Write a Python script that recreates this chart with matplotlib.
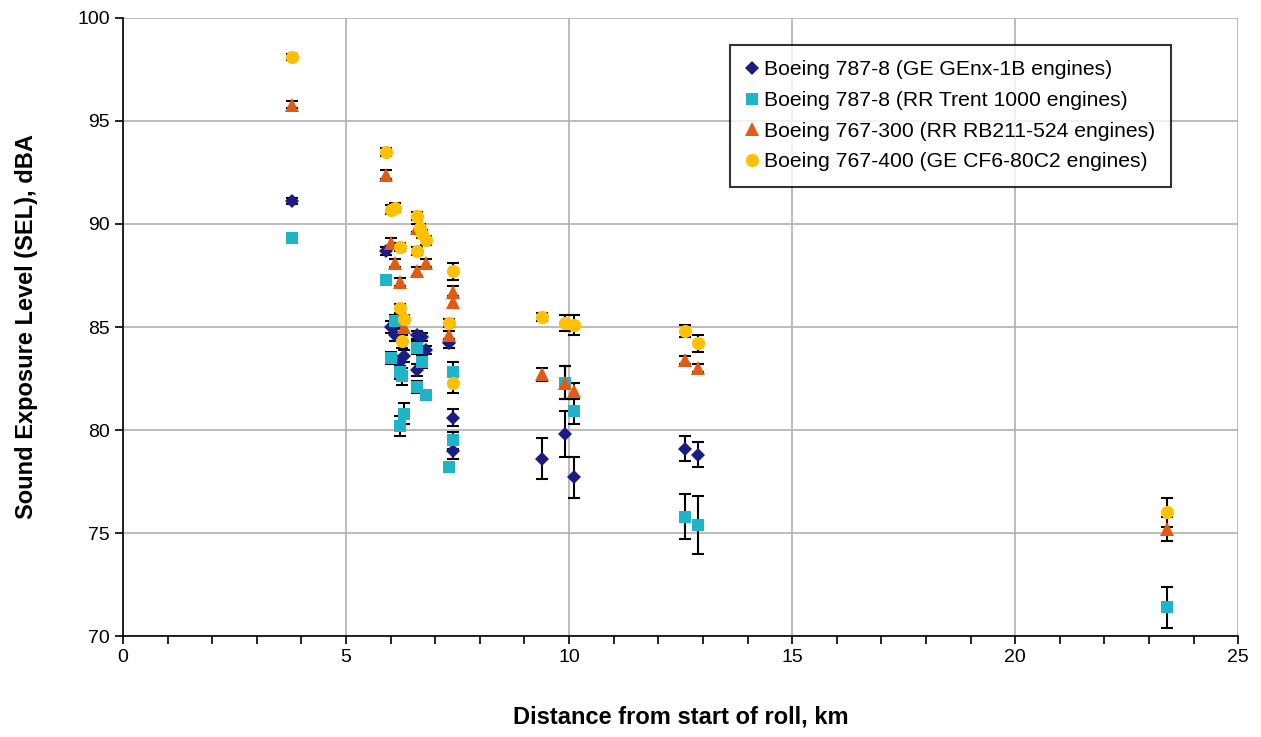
import numpy as np
import matplotlib.pyplot as plt

plt.rcParams['font.family'] = ['Liberation Sans', 'DejaVu Sans']

# Boeing 787-8 (GE GEnx-1B)
ge787_x = [3.8, 5.9, 6.0, 6.1, 6.2, 6.3, 6.6, 6.6, 6.7, 6.8, 7.3, 7.4, 7.4, 9.4, 9.9, 10.1, 12.6, 12.9]
ge787_y = [91.1, 88.7, 85.0, 84.6, 83.3, 83.6, 84.6, 82.9, 84.5, 83.9, 84.2, 80.6, 79.0, 78.6, 79.8, 77.7, 79.1, 78.8]
ge787_err = [0.15, 0.2, 0.3, 0.3, 0.3, 0.3, 0.2, 0.3, 0.2, 0.2, 0.2, 0.4, 0.4, 1.0, 1.1, 1.0, 0.6, 0.6]

# Boeing 787-8 (RR Trent 1000)
rr787_x = [3.8, 5.9, 6.0, 6.1, 6.2, 6.25, 6.3, 6.2, 6.6, 6.6, 6.7, 6.8, 7.3, 7.4, 7.4, 9.9, 10.1, 12.6, 12.9, 23.4]
rr787_y = [89.3, 87.3, 83.5, 85.3, 82.8, 82.6, 80.8, 80.2, 84.0, 82.1, 83.3, 81.7, 78.2, 82.8, 79.5, 82.3, 80.9, 75.8, 75.4, 71.4]
rr787_err = [0.15, 0.2, 0.3, 0.3, 0.3, 0.4, 0.5, 0.5, 0.3, 0.3, 0.3, 0.2, 0.2, 0.5, 0.4, 0.8, 0.6, 1.1, 1.4, 1.0]

# Boeing 767-300 (RR RB211-524)
b763_x = [3.8, 5.9, 6.0, 6.1, 6.2, 6.3, 6.6, 6.6, 6.8, 7.3, 7.4, 7.4, 9.4, 9.9, 10.1, 12.6, 12.9, 23.4]
b763_y = [95.8, 92.4, 89.1, 88.1, 87.2, 85.0, 89.8, 87.7, 88.1, 84.6, 86.7, 86.2, 82.7, 82.3, 81.9, 83.4, 83.0, 75.2]
b763_err = [0.15, 0.2, 0.2, 0.2, 0.2, 0.3, 0.2, 0.2, 0.2, 0.2, 0.3, 0.3, 0.3, 0.8, 0.4, 0.2, 0.2, 0.6]

# Boeing 767-400 (GE CF6-80C2)
b764_x = [3.8, 5.9, 6.0, 6.1, 6.2, 6.2, 6.3, 6.25, 6.6, 6.65, 6.7, 6.8, 6.6, 7.3, 7.4, 7.4, 9.4, 9.9, 10.1, 12.6, 12.9, 23.4]
b764_y = [98.1, 93.5, 90.7, 90.8, 88.9, 85.9, 85.4, 84.3, 90.4, 89.8, 89.5, 89.2, 88.7, 85.2, 87.7, 82.3, 85.5, 85.2, 85.1, 84.8, 84.2, 76.0]
b764_err = [0.15, 0.2, 0.2, 0.2, 0.2, 0.2, 0.2, 0.3, 0.2, 0.2, 0.2, 0.2, 0.2, 0.2, 0.4, 0.5, 0.2, 0.4, 0.5, 0.3, 0.4, 0.7]

series = [
    (ge787_x, ge787_y, ge787_err, 'D', '#1c1c85', 7, 'Boeing 787-8 (GE GEnx-1B engines)'),
    (rr787_x, rr787_y, rr787_err, 's', '#1fb4c8', 8.5, 'Boeing 787-8 (RR Trent 1000 engines)'),
    (b763_x, b763_y, b763_err, '^', '#e25b14', 9.5, 'Boeing 767-300 (RR RB211-524 engines)'),
    (b764_x, b764_y, b764_err, 'o', '#ffc000', 9.5, 'Boeing 767-400 (GE CF6-80C2 engines)'),
]

fig = plt.figure(figsize=(12.61, 7.37), dpi=100)
ax = fig.add_axes([0.0975, 0.137, 0.8845, 0.8386])

for x, y, e, m, c, ms, lab in series:
    ax.errorbar(x, y, yerr=e, fmt='none', ecolor='black', elinewidth=1.5,
                capsize=4.5, capthick=1.5, zorder=2)
    ax.plot(x, y, linestyle='none', marker=m, color=c, markersize=ms,
            markeredgewidth=0, label=lab, zorder=3)

ax.set_xlim(0, 25)
ax.set_ylim(70, 100)
ax.set_xticks(np.arange(0, 26, 5))
ax.set_xticks(np.arange(0, 26, 1), minor=True)
ax.set_yticks(np.arange(70, 101, 5))
ax.grid(True, which='major', color='#b0b0b0', linewidth=1.2)
ax.set_axisbelow(True)
for s in ['top', 'right']:
    ax.spines[s].set_visible(False)
ax.spines['left'].set_linewidth(1.2)
ax.spines['bottom'].set_linewidth(1.2)
ax.tick_params(axis='both', which='major', direction='out', length=6, width=1.2, labelsize=14)
ax.tick_params(axis='x', which='minor', direction='out', length=6, width=1.2)

ax.set_xlabel('Distance from start of roll, km', fontsize=17, fontweight='bold', labelpad=28)
ax.set_ylabel('Sound Exposure Level (SEL), dBA', fontsize=17, fontweight='bold', labelpad=28)

leg = ax.legend(loc='upper right', bbox_to_anchor=(0.94, 0.957), fontsize=15.2,
                frameon=True, fancybox=False, edgecolor='black', handlelength=0.6,
                handletextpad=0.3, borderpad=0.75, labelspacing=0.55, borderaxespad=0)
leg.get_frame().set_linewidth(1.5)

fig.savefig('out.png', dpi=100)
